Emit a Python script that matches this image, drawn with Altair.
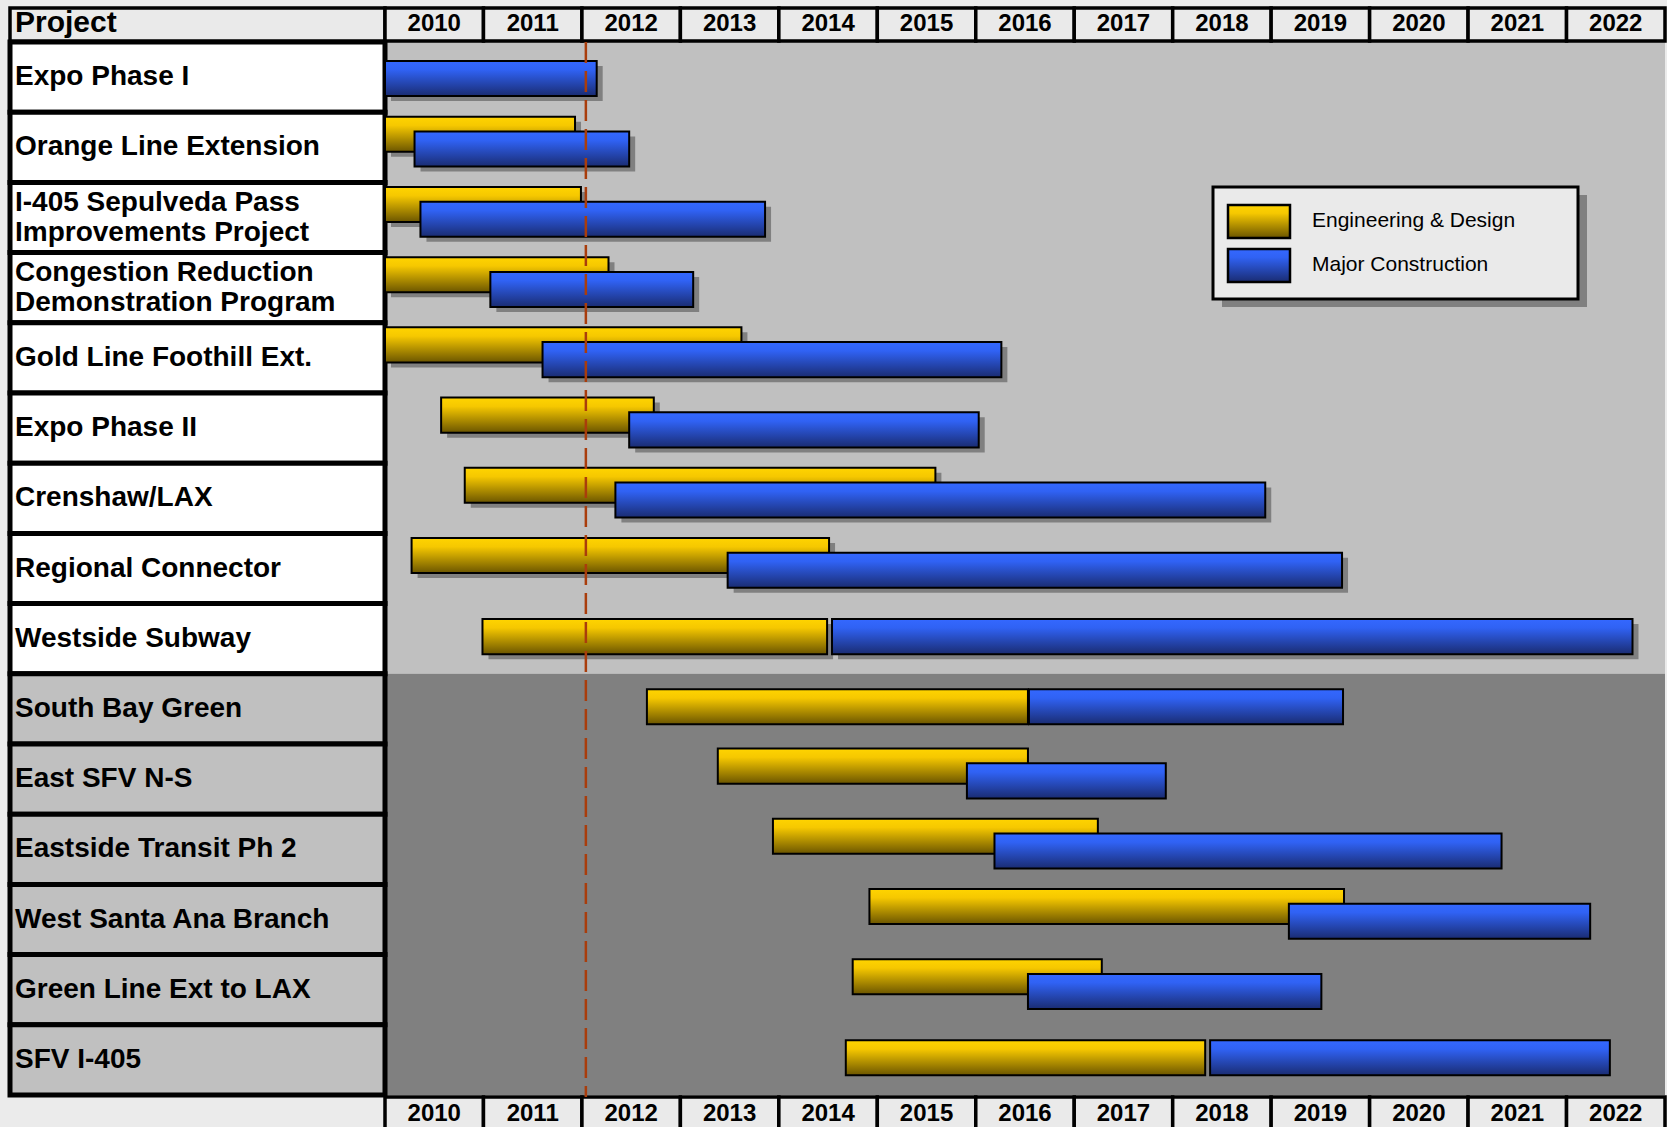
import altair as alt
import pandas as pd

# ---------------- data ----------------
YEARS = list(range(2010, 2023))
PROJECTS = [
    "Expo Phase I",
    "Orange Line Extension",
    "I-405 Sepulveda Pass\nImprovements Project",
    "Congestion Reduction\nDemonstration Program",
    "Gold Line Foothill Ext.",
    "Expo Phase II",
    "Crenshaw/LAX",
    "Regional Connector",
    "Westside Subway",
    "South Bay Green",
    "East SFV N-S",
    "Eastside Transit Ph 2",
    "West Santa Ana Branch",
    "Green Line Ext to LAX",
    "SFV I-405",
]
GROUP = [1, 1, 1, 1, 1, 1, 1, 1, 1, 2, 2, 2, 2, 2, 2]
ED_START = [None, 2010.0, 2010.0, 2010.0, 2010.0, 2010.57, 2010.81, 2010.27, 2010.99,
            2012.66, 2013.38, 2013.94, 2014.92, 2014.75, 2014.68]
ED_END = [None, 2011.93, 2011.99, 2012.27, 2013.62, 2012.73, 2015.59, 2014.51, 2014.49,
          2016.53, 2016.53, 2017.24, 2019.74, 2017.28, 2018.33]
MC_START = [2010.0, 2010.30, 2010.36, 2011.07, 2011.60, 2012.48, 2012.34, 2013.48, 2014.54,
            2016.54, 2015.91, 2016.19, 2019.18, 2016.53, 2018.38]
MC_END = [2012.15, 2012.48, 2013.86, 2013.13, 2016.26, 2016.03, 2018.94, 2019.72, 2022.67,
          2019.73, 2017.93, 2021.34, 2022.24, 2019.51, 2022.44]
SERIES = ["Engineering & Design", "Major Construction"]
TODAY = [2012.04]

# ---------------- styling ----------------
FONT = "Liberation Sans"
PAGE_BG = "#EBEBEB"
CELL_BG = "#EAEAEA"
UPPER_BG = "#C0C0C0"
LOWER_BG = "#808080"
SHADOW = "#808080"
ROW_PX = (1095 - 42) / len(PROJECTS)
LINE_PX = 30


def grad(c0, c1, c2):
    return alt.LinearGradient(
        gradient="linear", x1=0, y1=0, x2=0, y2=1,
        stops=[alt.GradientStop(color=c0, offset=0),
               alt.GradientStop(color=c1, offset=0.25),
               alt.GradientStop(color=c2, offset=1)])


FILLS = {
    SERIES[0]: grad("#FFD400", "#F6C800", "#6B5500"),
    SERIES[1]: grad("#3468FF", "#3062F4", "#1A2C72"),
}

N = len(PROJECTS)
xs = alt.Scale(domain=[YEARS[0], YEARS[-1] + 1], range=[385, 1665])
ys = alt.Scale(domain=[0, N], range=[42, 1095])


def X(f):
    return alt.X(f, type="quantitative", scale=xs, axis=None)


def Y(f):
    return alt.Y(f, type="quantitative", scale=ys, axis=None)


# ---------------- tables ----------------
rows = pd.DataFrame({"project": PROJECTS, "group": GROUP, "row": list(range(N))})
rows["row_end"] = rows["row"] + 1

# one background band per group
bands = rows.groupby("group").agg(row=("row", "min"), row_end=("row_end", "max")).reset_index()
bands["x0"] = YEARS[0]
bands["x1"] = YEARS[-1] + 1

# label lines, centred in each row
lines = []
for i, p in enumerate(PROJECTS):
    parts = p.split("\n")
    n = len(parts)
    for k, t in enumerate(parts):
        lines.append({"text": t, "y": i + 0.5 + (k - (n - 1) / 2) * LINE_PX / ROW_PX})
lines = pd.DataFrame(lines)

recs = []
for i in range(N):
    has_ed = ED_START[i] is not None
    has_mc = MC_START[i] is not None
    overlap = has_ed and has_mc and ED_END[i] > MC_START[i] + 0.05
    single = not (has_ed and has_mc)
    for s, st, en, present in [(SERIES[0], ED_START[i], ED_END[i], has_ed),
                               (SERIES[1], MC_START[i], MC_END[i], has_mc)]:
        if not present:
            continue
        if overlap:
            top = 0.065 if s == SERIES[0] else 0.275
        elif single:
            top = 0.27
        else:
            top = 0.22
        recs.append({"project": PROJECTS[i], "series": s, "start": st, "end": en,
                     "y0": i + top, "y1": i + top + 0.5})
bars = pd.DataFrame(recs)

years = pd.DataFrame({"year": YEARS})
years["year_end"] = years["year"] + 1
years["mid"] = years["year"] + 0.5
years["label"] = years["year"].astype(str)

layers = []

# plot backgrounds
for g, col in [(1, UPPER_BG), (2, LOWER_BG)]:
    layers.append(
        alt.Chart(bands[bands.group == g]).mark_rect(fill=col).encode(
            x=X("x0"), x2="x1:Q", y=Y("row"), y2="row_end:Q"))

# label column cells
for g, col in [(1, "#FFFFFF"), (2, UPPER_BG)]:
    layers.append(
        alt.Chart(rows[rows.group == g]).mark_rect(fill=col, stroke="black", strokeWidth=5).encode(
            x=alt.value(10), x2=alt.value(385), y=Y("row"), y2="row_end:Q"))

layers.append(
    alt.Chart(lines).mark_text(align="left", baseline="middle", font=FONT, fontWeight="bold",
                               fontSize=28, color="black").encode(
        x=alt.value(15), y=Y("y"), text="text:N"))

# header "Project" cell
proj_hdr = pd.DataFrame({"t": ["Project"]})
layers.append(
    alt.Chart(proj_hdr).mark_rect(fill=CELL_BG, stroke="black", strokeWidth=3.5).encode(
        x=alt.value(10), x2=alt.value(385), y=alt.value(8), y2=alt.value(41)))
layers.append(
    alt.Chart(proj_hdr).mark_text(align="left", baseline="middle", font=FONT, fontWeight="bold",
                                  fontSize=30, color="black").encode(
        x=alt.value(15), y=alt.value(23), text="t:N"))

# year header / footer cells
for y0, y1, ty in [(8, 41, 24), (1097, 1140, 1114)]:
    layers.append(
        alt.Chart(years).mark_rect(fill=CELL_BG, stroke="black", strokeWidth=3.5).encode(
            x=X("year"), x2="year_end:Q", y=alt.value(y0), y2=alt.value(y1)))
    layers.append(
        alt.Chart(years).mark_text(align="center", baseline="middle", font=FONT, fontWeight="bold",
                                   fontSize=24, color="black").encode(
            x=X("mid"), y=alt.value(ty), text="label:N"))

# bar shadows
layers.append(
    alt.Chart(bars).mark_rect(fill=SHADOW, xOffset=6, x2Offset=6, yOffset=5, y2Offset=5).encode(
        x=X("start"), x2="end:Q", y=Y("y0"), y2="y1:Q"))

# bars
for s in SERIES:
    layers.append(
        alt.Chart(bars[bars.series == s]).mark_rect(fill=FILLS[s], stroke="black", strokeWidth=2).encode(
            x=X("start"), x2="end:Q", y=Y("y0"), y2="y1:Q"))

# today line
layers.append(
    alt.Chart(pd.DataFrame({"d": TODAY})).mark_rule(stroke="#A93D0C", strokeWidth=2.5,
                                                   strokeDash=[21, 8]).encode(
        x=X("d"), y=alt.value(42), y2=alt.value(1097)))

# legend
leg = pd.DataFrame({"s": SERIES})
layers.append(
    alt.Chart(leg.head(1)).mark_rect(fill=SHADOW).encode(
        x=alt.value(1222), x2=alt.value(1587), y=alt.value(195), y2=alt.value(307)))
layers.append(
    alt.Chart(leg.head(1)).mark_rect(fill=CELL_BG, stroke="black", strokeWidth=3).encode(
        x=alt.value(1213), x2=alt.value(1578), y=alt.value(187), y2=alt.value(299)))
for k, s in enumerate(SERIES):
    sy = 205 + 44 * k
    d = leg[leg.s == s]
    layers.append(
        alt.Chart(d).mark_rect(fill=FILLS[s], stroke="black", strokeWidth=2.5).encode(
            x=alt.value(1228), x2=alt.value(1290), y=alt.value(sy), y2=alt.value(sy + 33)))
    layers.append(
        alt.Chart(d).mark_text(align="left", baseline="middle", font=FONT, fontSize=21,
                               color="black").encode(
            x=alt.value(1312), y=alt.value(sy + 16), text="s:N"))

chart = alt.layer(*layers).properties(
    width=1667, height=1127, padding=0, autosize="none", background=PAGE_BG
).configure_view(strokeWidth=0)

chart.save("out.html", embed_options={"renderer": "svg", "actions": False})
